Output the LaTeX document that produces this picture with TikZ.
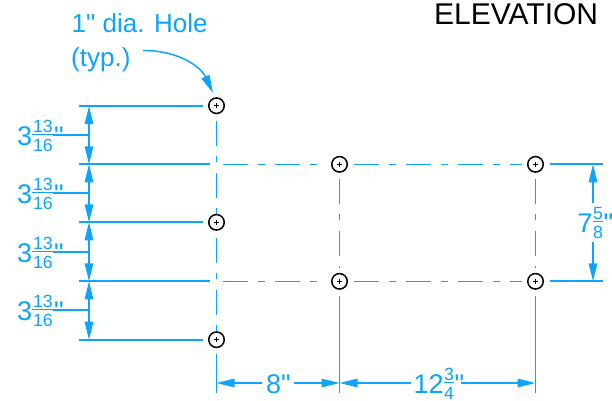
\documentclass[tikz,border=0pt]{standalone}
\usepackage{fontspec}
\setmainfont{Liberation Sans}[Ligatures=TeXOff]
\usetikzlibrary{arrows.meta}
\definecolor{dimblue}{HTML}{0FA3FC}
% big digit(s), numerator, denominator, bar width
\newcommand\mixfrac[4]{{\fontsize{27}{27}\selectfont #1}%
\makebox[0pt][l]{\raisebox{12.3pt}{\makebox[#4]{\fontsize{17.7}{18}\selectfont #2}}}%
\makebox[0pt][l]{\smash{\raisebox{-6pt}{\makebox[#4]{\fontsize{17.7}{18}\selectfont #3}}}}%
\makebox[0pt][l]{\rule[9.6pt]{#4}{1pt}}\kern#4\kern.5pt%
{\fontsize{27}{27}\selectfont "}}
\tikzset{
  x=1pt,y=-1pt,
  hole/.style={circle,draw=black,line width=1.5pt,minimum size=15.5pt,inner sep=0pt,
    path picture={\draw[black,line width=.8pt] (path picture bounding box.center) ++(-2.4pt,0) -- ++(4.8pt,0) ++(-2.4pt,-2.4pt) -- ++(0,4.8pt);}},
  extline/.style={draw=dimblue,line width=1.7pt},
  dimline/.style={draw=dimblue,line width=1.5pt},
  tips/.style={{Triangle[length=18pt,width=8.5pt]}-{Triangle[length=18pt,width=8.5pt]}},
  tipa/.style={{Triangle[length=18pt,width=8.5pt]}-},
  tipb/.style={-{Triangle[length=18pt,width=8.5pt]}},
  chline/.style={draw=dimblue,line width=1.2pt,dash pattern=on 25pt off 10pt on 7pt off 10pt},
  cvline/.style={draw=dimblue,line width=1.2pt,dash pattern=on 25pt off 10pt on 6pt off 11pt},
  lab/.style={text=dimblue,inner sep=0pt,anchor=base west},
  biglab/.style={lab,font=\fontsize{26}{28}\selectfont},
}
\begin{document}
\begin{tikzpicture}
\useasboundingbox (0,0) rectangle (612,400);
% holes
\node[hole] (a1) at (216.5,105.7) {};
\node[hole] (a3) at (216.5,222.3) {};
\node[hole] (a5) at (216.5,339.7) {};
\node[hole] (b2) at (339.5,164.3) {};
\node[hole] (b4) at (339.5,281.3) {};
\node[hole] (c2) at (535.5,164.3) {};
\node[hole] (c4) at (535.5,281.3) {};
\coordinate (x2) at (216.5,164.3);
\coordinate (x4) at (216.5,281.3);
% texts
\node[lab,font=\fontsize{30}{30}\selectfont,text=black] (title) at (434,24) {ELEVATION};
\node[biglab] (t1) at (71.5,32) {1" dia. Hole};
\node[biglab] (t2) at (71,66) {(typ.)};
\node[lab] (f1) at (17,145) {\mixfrac{3}{13}{16}{21.5pt}};
\node[lab] (f2) at (17,203) {\mixfrac{3}{13}{16}{21.5pt}};
\node[lab] (f3) at (17,262) {\mixfrac{3}{13}{16}{21.5pt}};
\node[lab] (f4) at (17,320) {\mixfrac{3}{13}{16}{21.5pt}};
\node[lab] (f5) at (577.5,232) {\mixfrac{7}{5}{8}{10.5pt}};
\node[lab,font=\fontsize{27}{27}\selectfont] (f6) at (266,393) {8"};
\node[lab] (f7) at (413.5,393) {\mixfrac{12}{3}{4}{10.5pt}};
% leader
\coordinate (ls) at (143,50.5);
\draw[dimline,tipb] (ls) .. controls (175,50) and (200,65) .. (213,93);
% left extension lines
\coordinate (e1) at (79,105.7);
\coordinate (e2) at (79,164.3);
\coordinate (e3) at (79,222.3);
\coordinate (e4) at (79,281.3);
\coordinate (e5) at (79,339.7);
\draw[extline,shorten <=5.5pt] (a1) -- (e1);
\draw[extline,shorten >=6.5pt] (e2) -- (x2);
\draw[extline,shorten <=5.5pt] (a3) -- (e3);
\draw[extline,shorten >=6.5pt] (e4) -- (x4);
\draw[extline,shorten <=5.5pt] (a5) -- (e5);
% right extension lines
\coordinate (r2) at (603,164.3);
\coordinate (r4) at (603,281.3);
\draw[extline,shorten <=5.5pt] (c2) -- (r2);
\draw[extline,shorten <=5.5pt] (c4) -- (r4);
% bottom extension lines
\coordinate (g1) at (216.5,393);
\coordinate (g2) at (339.5,393);
\coordinate (g3) at (535.5,393);
\draw[extline,shorten <=5.5pt] (a5) -- (g1);
\draw[extline,shorten <=6pt] (b4) -- (g2);
\draw[extline,shorten <=6pt] (c4) -- (g3);
% centre lines
\draw[cvline,shorten <=6.5pt] (a1) -- (a3);
\draw[cvline,shorten <=7pt] (a3) -- (a5);
\draw[cvline,shorten <=6pt,shorten >=5pt] (b2) -- (b4);
\draw[cvline,shorten <=6pt,shorten >=5pt] (c2) -- (c4);
\draw[chline,shorten <=6.5pt,shorten >=11.5pt] (x2) -- (b2);
\draw[chline,shorten <=6.5pt,shorten >=11.5pt] (x4) -- (b4);
\draw[chline,shorten <=6pt,shorten >=5.5pt] (b2) -- (c2);
\draw[chline,shorten <=6pt,shorten >=5.5pt] (b4) -- (c4);
% vertical dimensions at left
\coordinate (d1) at (89,106);
\coordinate (d2) at (89,164.3);
\coordinate (d3) at (89,222.3);
\coordinate (d4) at (89,281.3);
\coordinate (d5) at (89,339.7);
\draw[dimline,tips] (d1) -- (d2);
\draw[dimline,tips] (d2) -- (d3);
\draw[dimline,tips] (d3) -- (d4);
\draw[dimline,tips] (d4) -- (d5);
\coordinate (l1) at (53,135);
\coordinate (l2) at (53,193);
\coordinate (l3) at (53,252);
\coordinate (l4) at (53,310);
\draw[dimline,line width=1.2pt] (l1) -- (l1 -| d1);
\draw[dimline,line width=1.2pt] (l2) -- (l2 -| d1);
\draw[dimline,line width=1.2pt] (l3) -- (l3 -| d1);
\draw[dimline,line width=1.2pt] (l4) -- (l4 -| d1);
% right dimension
\coordinate (q2) at (593,164.3);
\coordinate (q4) at (593,281.3);
\coordinate (qa) at (593,203);
\coordinate (qb) at (593,242);
\draw[dimline,tipa] (q2) -- (qa);
\draw[dimline,tipb] (qb) -- (q4);
% bottom dimensions
\coordinate (h1) at (216.5,383);
\coordinate (h2) at (339.5,383);
\coordinate (h3) at (535.5,383);
\coordinate (ha) at (262,383);
\coordinate (hb) at (294,383);
\coordinate (hc) at (411,383);
\coordinate (hd) at (461,383);
\draw[dimline,tipa] (h1) -- (ha);
\draw[dimline,tipb] (hb) -- (h2);
\draw[dimline,tipa] (h2) -- (hc);
\draw[dimline,tipb] (hd) -- (h3);
\end{tikzpicture}
\end{document}
